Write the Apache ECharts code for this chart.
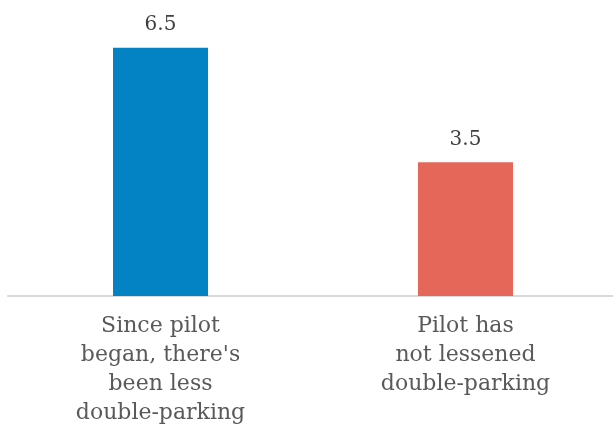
<!DOCTYPE html>
<html><head><meta charset="utf-8">
<script src="https://cdn.jsdelivr.net/npm/echarts@6/dist/echarts.min.js"></script>
<style>html,body{margin:0;padding:0;background:#fff}#c{width:613px;height:427px}</style>
</head><body><div id="c"></div>
<script>
const categories = ["Since pilot\nbegan, there's\nbeen less\ndouble-parking", "Pilot has\nnot lessened\ndouble-parking"];
const values = [6.5, 3.5];
const barColors = ["#0483c4", "#e4675a"];

const chart = echarts.init(document.getElementById('c'), null, {renderer: 'canvas'});
chart.setOption({
  animation: false,
  grid: {left: 8, width: 610, top: 47.7, height: 248.3, containLabel: false, outerBoundsMode: 'none'},
  xAxis: {
    type: 'category',
    data: categories,
    axisLine: {lineStyle: {color: '#d9d9d9', width: 2}},
    axisTick: {show: false},
    axisLabel: {
      interval: 0, margin: 16, color: '#595959',
      fontFamily: 'DejaVu Serif', fontSize: 22, lineHeight: 29
    }
  },
  yAxis: {type: 'value', min: 0, max: 6.5, show: false, splitLine: {show: false}},
  series: [{
    type: 'bar',
    barWidth: 95,
    data: values.map((v, i) => ({value: v, itemStyle: {color: barColors[i]}})),
    label: {
      show: true, position: 'top', distance: 13, color: '#404040',
      fontFamily: 'DejaVu Serif', fontSize: 20
    }
  }]
});
</script></body></html>
